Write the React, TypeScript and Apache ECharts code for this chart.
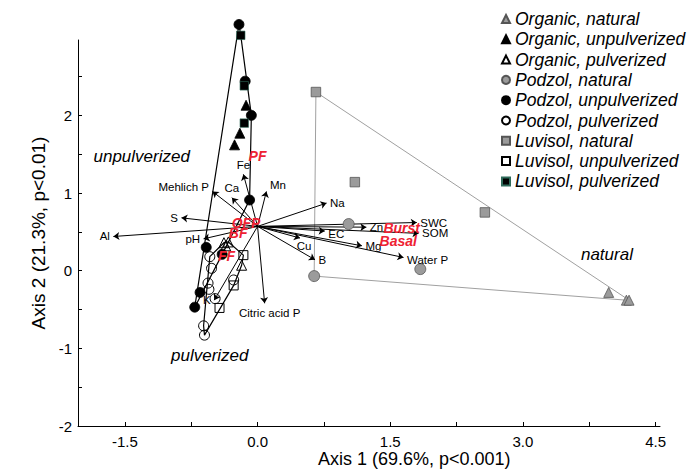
import React, { useEffect, useRef } from "react";
import * as echarts from "echarts";

// ---------- data ----------
const groupNames = [
  "Organic, natural",
  "Organic, unpulverized",
  "Organic, pulverized",
  "Podzol, natural",
  "Podzol, unpulverized",
  "Podzol, pulverized",
  "Luvisol, natural",
  "Luvisol, unpulverized",
  "Luvisol, pulverized",
];

const organicNatural = [[3.97, -0.28], [4.17, -0.38], [4.2, -0.38]];
const organicUnpulverized = [[-0.13, 2.13], [-0.2, 1.77], [-0.26, 1.62]];
const organicPulverized = [[-0.38, 0.36], [-0.33, 0.37], [-0.36, 0.32], [-0.18, 0.07]];
const podzolNatural = [[0.64, -0.07], [1.03, 0.6], [1.84, 0.02]];
const podzolUnpulverized = [[-0.21, 3.17], [-0.14, 2.44], [-0.07, 2.0], [-0.09, 0.91], [-0.58, 0.3], [-0.4, 0.21], [-0.65, -0.28], [-0.71, -0.47]];
const podzolPulverized = [[-0.54, 0.18], [-0.52, 0.03], [-0.56, -0.16], [-0.55, -0.24], [-0.48, -0.36], [-0.61, -0.71], [-0.6, -0.83], [-0.27, -0.12]];
const luvisolNatural = [[0.66, 2.3], [1.1, 1.14], [2.57, 0.75]];
const luvisolUnpulverized = [[-0.16, 0.2], [-0.27, -0.19], [-0.43, -0.48]];
const luvisolPulverized = [[-0.19, 3.03], [-0.15, 2.38], [-0.15, 1.9]];

const vectorOrigin = [0.0, 0.57];
const variables = ["Al", "S", "pH", "Mehlich P", "Ca", "Fe", "Mn", "Na", "Zn", "SWC", "SOM", "EC", "Cu", "Mg", "Water P", "B", "Citric acid P", "K"];
const axis1Scores = [-1.63, -0.86, -0.61, -0.51, -0.29, -0.16, 0.1, 0.78, 1.23, 1.8, 1.82, 0.76, 0.48, 1.18, 1.65, 0.65, 0.08, -0.49];
const axis2Scores = [0.44, 0.68, 0.41, 1.02, 0.94, 1.24, 1.02, 0.87, 0.56, 0.62, 0.48, 0.51, 0.42, 0.32, 0.17, 0.14, -0.42, -0.38];

const respNames = ["PF", "OFP", "BF", "FF", "Burst", "Basal"];
const respAxis1 = [0.0, -0.13, -0.22, -0.35, 1.63, 1.59];
const respAxis2 = [1.47, 0.62, 0.48, 0.19, 0.55, 0.38];

const groupLabelNames = ["unpulverized", "pulverized", "natural"];
const groupLabelAxis1 = [-1.31, -0.54, 3.95];
const groupLabelAxis2 = [1.475, -1.09, 0.21];

const xTickValues = [-1.5, -0.75, 0, 0.75, 1.5, 2.25, 3, 3.75, 4.5];
const xTickLabels = [-1.5, 0, 1.5, 3, 4.5];
const yTickValues = [-2, -1.5, -1, -0.5, 0, 0.5, 1, 1.5, 2, 2.5];
const yTickLabels = [-2, -1, 0, 1, 2];

// ---------- layout / style (not data) ----------
const FONT = "'Liberation Sans', Arial, Helvetica, sans-serif";
const labelPlacement: Record<string, { position: string; offset?: number[] }> = {
  Al: { position: "left" },
  S: { position: "left" },
  pH: { position: "left" },
  "Mehlich P": { position: "left", offset: [0, -4] },
  Ca: { position: "top" },
  Fe: { position: "top" },
  Mn: { position: "right", offset: [0, -6] },
  Na: { position: "right" },
  Zn: { position: "right" },
  SWC: { position: "right" },
  SOM: { position: "right" },
  EC: { position: "right", offset: [0, 3] },
  Cu: { position: "bottom", offset: [4, -2] },
  Mg: { position: "right" },
  "Water P": { position: "right", offset: [0, 3] },
  B: { position: "right" },
  "Citric acid P": { position: "bottom", offset: [5, 0] },
  K: { position: "left" },
};

function convexHull(points: number[][]): number[][] {
  const p = points.slice().sort((a, b) => (a[0] === b[0] ? a[1] - b[1] : a[0] - b[0]));
  const cross = (o: number[], a: number[], b: number[]) => (a[0] - o[0]) * (b[1] - o[1]) - (a[1] - o[1]) * (b[0] - o[0]);
  const lower: number[][] = [];
  for (const pt of p) {
    while (lower.length >= 2 && cross(lower[lower.length - 2], lower[lower.length - 1], pt) <= 0) lower.pop();
    lower.push(pt);
  }
  const upper: number[][] = [];
  for (let i = p.length - 1; i >= 0; i--) {
    const pt = p[i];
    while (upper.length >= 2 && cross(upper[upper.length - 2], upper[upper.length - 1], pt) <= 0) upper.pop();
    upper.push(pt);
  }
  upper.pop();
  lower.pop();
  const h = lower.concat(upper);
  h.push(h[0]);
  return h;
}

export default function App() {
  const ref = useRef<HTMLDivElement>(null);
  useEffect(() => {
    document.body.style.margin = "0";
    if (!ref.current) return;
    const chart = echarts.init(ref.current, undefined, { renderer: "svg" });

    const gray = { color: "#9b9b9b", borderColor: "#555", borderWidth: 0.8 };
    const black = { color: "#000", borderColor: "#000", borderWidth: 0.8 };
    const open = { color: "rgba(255,255,255,0)", borderColor: "#000", borderWidth: 1 };

    const groups = [
      { name: groupNames[0], data: organicNatural, symbol: "triangle", size: 10, style: gray },
      { name: groupNames[1], data: organicUnpulverized, symbol: "triangle", size: 10, style: black },
      { name: groupNames[2], data: organicPulverized, symbol: "triangle", size: 10, style: open },
      { name: groupNames[3], data: podzolNatural, symbol: "circle", size: 11, style: gray },
      { name: groupNames[4], data: podzolUnpulverized, symbol: "circle", size: 10, style: black },
      { name: groupNames[5], data: podzolPulverized, symbol: "circle", size: 10, style: open },
      { name: groupNames[6], data: luvisolNatural, symbol: "rect", size: 9.5, style: gray },
      { name: groupNames[7], data: luvisolUnpulverized, symbol: "rect", size: 9, style: open },
      { name: groupNames[8], data: luvisolPulverized, symbol: "rect", size: 8.5, style: { color: "#000", borderColor: "#2f6b5a", borderWidth: 0.6 } },
    ];

    const naturalHull = convexHull([...organicNatural, ...podzolNatural, ...luvisolNatural]);
    const filledHull = convexHull([...organicUnpulverized, ...podzolUnpulverized, ...luvisolPulverized]);
    const openHull = convexHull([...organicPulverized, ...podzolPulverized, ...luvisolUnpulverized]);

    const hullSeries = (data: number[][], color: string, width: number) => ({
      type: "line",
      data,
      symbol: "none",
      clip: false,
      silent: true,
      lineStyle: { color, width },
      z: 1,
    });

    const textSeries = (z: number, data: any[]) => ({
      type: "scatter",
      silent: true,
      clip: false,
      symbolSize: 1,
      itemStyle: { color: "rgba(0,0,0,0)", opacity: 1 },
      emphasis: { disabled: true },
      z,
      data,
    });

    const option: any = {
      animation: false,
      grid: { left: 78, right: 34, top: 40, bottom: 46 },
      xAxis: {
        type: "value",
        min: -2.03,
        max: 4.55,
        axisLine: { show: true, onZero: false, lineStyle: { color: "#000", width: 1 } },
        axisTick: { show: true, inside: true, length: 4, customValues: xTickValues, lineStyle: { color: "#000" } },
        axisLabel: {
          customValues: xTickLabels,
          formatter: (v: number) => v.toFixed(1),
          fontSize: 15,
          color: "#000",
          fontFamily: FONT,
          margin: 8,
        },
        splitLine: { show: false },
      },
      yAxis: {
        type: "value",
        min: -2,
        max: 2.97,
        name: "Axis 2 (21.3%, p<0.01)",
        nameLocation: "middle",
        nameGap: 26,
        nameTextStyle: { fontSize: 19, color: "#000", fontFamily: FONT },
        axisLine: { show: true, onZero: false, lineStyle: { color: "#000", width: 1 } },
        axisTick: { show: true, inside: true, length: 4, customValues: yTickValues, lineStyle: { color: "#000" } },
        axisLabel: {
          customValues: yTickLabels,
          formatter: (v: number) => String(v),
          fontSize: 15,
          color: "#000",
          fontFamily: FONT,
          margin: 6,
        },
        splitLine: { show: false },
      },
      legend: {
        data: groupNames,
        orient: "vertical",
        left: 496,
        top: 5,
        itemWidth: 8,
        itemHeight: 8,
        itemGap: 2.3,
        textStyle: { fontSize: 17.5, fontStyle: "italic", color: "#000", fontFamily: FONT, lineHeight: 18 },
        selectedMode: false,
      },
      graphic: [
        {
          type: "text",
          left: 318,
          top: 450,
          style: { text: "Axis 1 (69.6%, p<0.001)", fontSize: 18, fill: "#000", fontFamily: FONT },
        },
      ],
      series: [
        hullSeries(naturalHull, "#a0a0a0", 1),
        hullSeries(filledHull, "#000", 1.2),
        hullSeries(openHull, "#000", 1.2),
        {
          type: "lines",
          coordinateSystem: "cartesian2d",
          symbol: ["none", "arrow"],
          symbolSize: 6,
          silent: true,
          lineStyle: { color: "#000", width: 1, opacity: 1 },
          data: variables.map((_, i) => ({ coords: [vectorOrigin, [axis1Scores[i], axis2Scores[i]]] })),
          z: 2,
        },
        ...groups.map((g) => ({
          type: "scatter",
          name: g.name,
          data: g.data,
          symbol: g.symbol,
          symbolSize: g.size,
          itemStyle: { ...g.style, opacity: 1 },
          clip: false,
          silent: true,
          z: 3,
        })),
        textSeries(
          4,
          variables.map((n, i) => {
            const pl = labelPlacement[n] || { position: "right" };
            return {
              value: [axis1Scores[i], axis2Scores[i]],
              label: {
                show: true,
                formatter: n,
                position: pl.position,
                offset: pl.offset || [0, 0],
                distance: 3,
                fontSize: 11.5,
                color: "#000",
                opacity: 1,
                fontFamily: FONT,
              },
            };
          })
        ),
        textSeries(
          5,
          respNames.map((n, i) => ({
            value: [respAxis1[i], respAxis2[i]],
            label: {
              show: true,
              formatter: n,
              position: "inside",
              fontSize: 14,
              fontWeight: "bold",
              fontStyle: "italic",
              color: "#ee2233",
              opacity: 1,
              fontFamily: FONT,
            },
          }))
        ),
        textSeries(
          5,
          groupLabelNames.map((n, i) => ({
            value: [groupLabelAxis1[i], groupLabelAxis2[i]],
            label: {
              show: true,
              formatter: n,
              position: "inside",
              fontSize: 17,
              fontStyle: "italic",
              color: "#000",
              opacity: 1,
              fontFamily: FONT,
            },
          }))
        ),
      ],
    };
    chart.setOption(option);
    return () => chart.dispose();
  }, []);
  return <div ref={ref} style={{ width: 694, height: 472 }} />;
}
